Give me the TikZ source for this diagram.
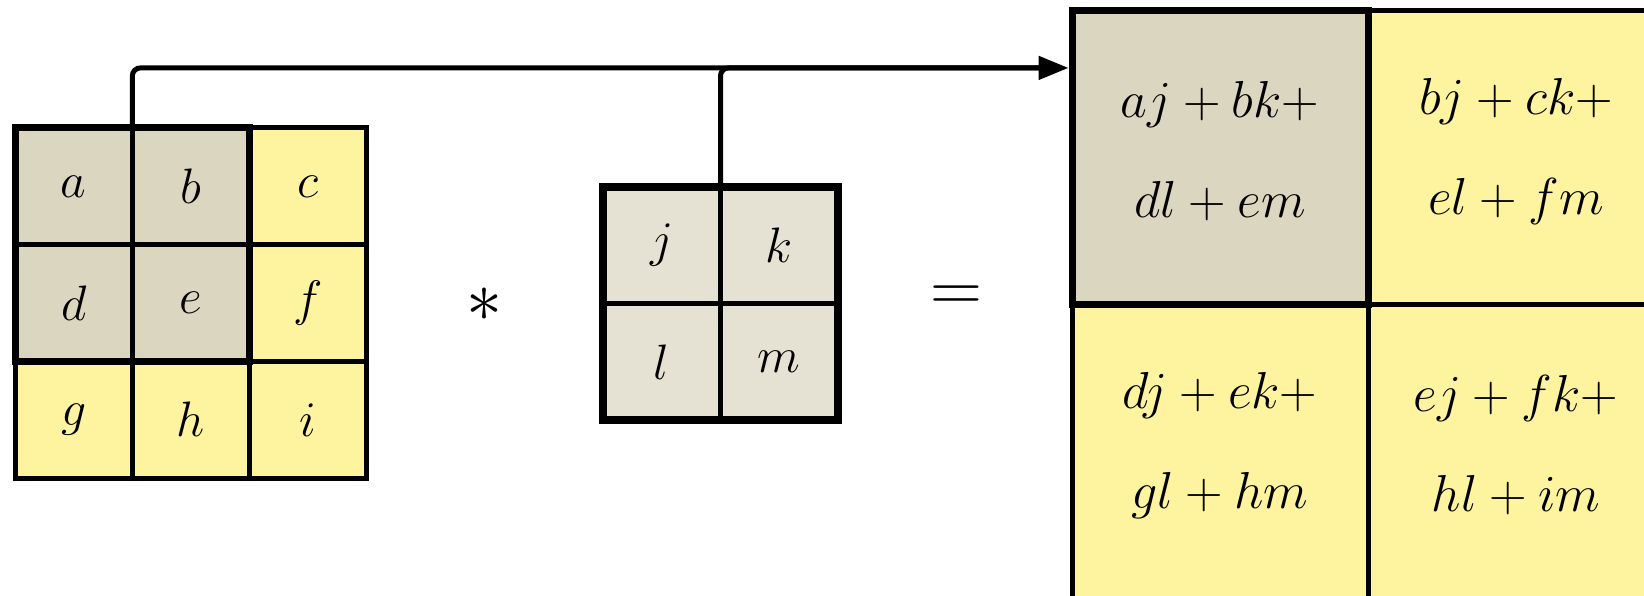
\RequirePackage{fix-cm}
\documentclass[tikz,border=0pt]{standalone}
\usetikzlibrary{arrows.meta,calc}
\definecolor{graycell}{HTML}{DAD6BF}
\definecolor{kercell}{HTML}{E5E1D3}
\definecolor{yelcell}{HTML}{FEF39F}
\begin{document}
\begin{tikzpicture}[x=0.5pt,y=-0.5pt,
  cellbase/.style={draw, line width=2.5pt, inner sep=0pt, outer sep=0pt,
    font=\fontsize{24.9}{28}\selectfont},
  incell/.style={cellbase, minimum width=58.67pt, minimum height=58.33pt},
  kcell/.style={cellbase, fill=kercell, minimum width=58.75pt, minimum height=58.25pt},
  ocell/.style={cellbase, minimum width=148pt, minimum height=147pt},
  otext/.style={inner sep=0pt, align=center, font=\fontsize{26}{50}\selectfont},
  gfill/.style={fill=graycell},
  yfill/.style={fill=yelcell},
  conn/.style={line width=2.5pt, rounded corners=4pt},
  op/.style={inner sep=0pt, font=\fontsize{36}{40}\selectfont}
]
\useasboundingbox (0,0) rectangle (1644,595);
\clip (0,0) rectangle (1644,595);
\fill[white] (0,0) rectangle (1644,595);

% input 3x3
\node[incell,gfill] (ia) at (73.7,186.3) {$a$};
\node[incell,gfill] (ib) at (191,186.3) {$b$};
\node[incell,yfill] (ic) at (308.3,186.3) {$c$};
\node[incell,gfill] (id) at (73.7,303) {$d$};
\node[incell,gfill] (ie) at (191,303) {$e$};
\node[incell,yfill] (if) at (308.3,303) {$f$};
\node[incell,yfill] (ig) at (73.7,419.7) {$g$};
\node[incell,yfill] (ih) at (191,419.7) {$h$};
\node[incell,yfill] (ii) at (308.3,419.7) {$i$};
\draw[line width=3.5pt] (ia.north west) rectangle (ie.south east);

% operators
\node[op] (star) at (484,305) {$*$};
\node[op] (eq) at (956,299) {$=$};

% kernel 2x2
\node[kcell] (kj) at (661.75,245.25) {$j$};
\node[kcell] (kk) at (779.25,245.25) {$k$};
\node[kcell] (kl) at (661.75,361.75) {$l$};
\node[kcell] (km) at (779.25,361.75) {$m$};
\draw[line width=4pt] (kj.north west) rectangle (km.south east);

% output
\node[ocell,yfill] (ob) at (1516,157) {};
\node[ocell,yfill] (oc) at (1220,451) {};
\node[ocell,yfill] (od) at (1516,451) {};
\node[ocell,gfill,line width=3.5pt] (oa) at (1220,157) {};
\node[otext] (ta) at ([shift={(0,-6)}]oa.center) {$aj+bk+$\\$dl+em$};
\node[otext] (tb) at ([shift={(0,-6)}]ob.center) {$bj+ck+$\\$el+fm$};
\node[otext] (tc) at ([shift={(0,-6)}]oc.center) {$dj+ek+$\\$gl+hm$};
\node[otext] (td) at ([shift={(0,-6)}]od.center) {$ej+fk+$\\$hl+im$};

% connectors
\coordinate (tip) at ($([xshift=-1.75pt]oa.north west)!0.197!([xshift=-1.75pt]oa.south west)$);
\draw[conn] (kj.north east) |- ([xshift=-10pt]tip);
\draw[conn,-{Triangle[length=15pt,width=11.5pt]}] (ib.north west) |- (tip);
\end{tikzpicture}
\end{document}
